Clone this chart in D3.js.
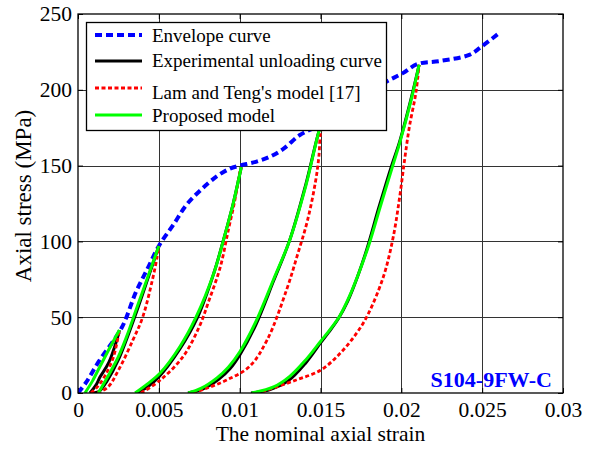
<!doctype html>
<html>
<head>
<style>
  body { margin: 0; background: #fff; }
  text { font-family: 'Liberation Serif', 'Times New Roman', serif; fill: #000; }
</style>
<script src="https://d3js.org/d3.v7.min.js"></script>
</head>
<body>
<script>
// axis ticks
var xTicks = [0, 0.005, 0.01, 0.015, 0.02, 0.025, 0.03];
var xTickLabels = ["0", "0.005", "0.01", "0.015", "0.02", "0.025", "0.03"];
var yTicks = [0, 50, 100, 150, 200, 250];

// envelope curve [strain, stress]
var envelope = [[0,0],[0.0005,7],[0.0013,21],[0.0027,43],[0.0036,67],[0.0043,82],[0.005,97],
  [0.0059,111],[0.0067,124],[0.0076,134],[0.0086,143],[0.0094,148],[0.0100,150],[0.011,152.5],
  [0.0119,156],[0.0127,161],[0.0137,170],[0.0146,175],[0.016,184],[0.0175,195],[0.019,205],
  [0.0201,211],[0.021,217],[0.0224,219],[0.0242,223],[0.0249,228],[0.026,237]];

// experimental unloading curves
var experimental = [
  [[0.00074,0],[0.0011,5],[0.00136,10.5],[0.0019,20],[0.0024,35],[0.00256,41.5]],
  [[0.0009,0],[0.0013,1],[0.0018,8],[0.0025,22],[0.0036,53],[0.0044,78],[0.005,97]],
  [[0.0036,0],[0.0043,4],[0.005,10.5],[0.0063,29],[0.0074,50],[0.0084,79],[0.009,101],[0.0096,125],[0.0101,149]],
  [[0.0068,0],[0.0077,2.5],[0.0087,9],[0.0094,16],[0.01,25],[0.011,45],[0.0121,74],[0.0131,101],[0.0141,138],[0.015,176],[0.0152,180]],
  [[0.0107,0],[0.0118,2],[0.013,8],[0.0141,20],[0.015,33],[0.0155,40],[0.0161,49],[0.0167,61],[0.0173,77],[0.0179,96],[0.0186,122],[0.0194,150],[0.0199,166],[0.0206,194],[0.0211,216.5]]
];

// Lam and Teng's model
var lamTeng = [
  [[0.0008,0],[0.0012,4],[0.0017,12],[0.0022,24],[0.00256,41.5]],
  [[0.0012,0],[0.00186,4],[0.0025,15],[0.0034,35],[0.004,50],[0.0046,74.5],[0.0049,90],[0.005,97]],
  [[0.0039,0],[0.0051,8.6],[0.0065,24],[0.0075,43.7],[0.0081,61],[0.0088,83],[0.0093,107.5],[0.0097,127],[0.01,145],[0.0101,149]],
  [[0.0071,0],[0.008,3.3],[0.0092,8.6],[0.0106,17.4],[0.0117,35],[0.0129,68],[0.0136,92],[0.0142,114],[0.0147,140],[0.0149,156],[0.015,171.5],[0.0152,180]],
  [[0.011,0],[0.0117,2],[0.0135,8.6],[0.015,15],[0.0162,26],[0.0172,39],[0.0179,51],[0.0189,77],[0.0195,103],[0.0199,129.5],[0.0202,153.7],[0.0205,175.7],[0.0209,198],[0.0211,216.5]]
];

// proposed model
var proposed = [
  [[0.00043,0],[0.0009,8],[0.00136,17.5],[0.0019,28.5],[0.00256,41.5]],
  [[0.00126,0],[0.0018,10],[0.0025,24],[0.003,37],[0.0036,55],[0.0044,79],[0.005,97]],
  [[0.00353,0],[0.0043,6],[0.00507,13],[0.0063,30.5],[0.0073,50],[0.0084,79],[0.009,101],[0.0096,125],[0.0101,149]],
  [[0.00682,0],[0.0076,3],[0.0086,10],[0.0093,17],[0.01,27],[0.011,47],[0.0121,75],[0.0131,101],[0.0141,137],[0.015,176],[0.0152,180]],
  [[0.01074,0],[0.0121,4],[0.0131,11],[0.0141,22],[0.015,34],[0.0156,42],[0.0162,51],[0.0168,64],[0.0174,80],[0.018,98],[0.0187,123],[0.0195,151],[0.0199,165],[0.0206,193],[0.0211,216.5]]
];

var legendLabels = ["Envelope curve", "Experimental unloading curve", "Lam and Teng's model [17]", "Proposed model"];

var W = 595, H = 450;
var m = {left: 78, top: 14, right: 32, bottom: 57};
var pw = W - m.left - m.right, ph = H - m.top - m.bottom;

var svg = d3.select("body").append("svg").attr("width", W).attr("height", H);

var x = d3.scaleLinear().domain([0, 0.03]).range([m.left, m.left + pw]);
var y = d3.scaleLinear().domain([0, 250]).range([m.top + ph, m.top]);

svg.append("clipPath").attr("id", "clip")
  .append("rect").attr("x", m.left).attr("y", m.top).attr("width", pw).attr("height", ph);

// grid
var grid = svg.append("g").attr("stroke", "#333").attr("stroke-width", 1);
grid.selectAll(".gx").data(xTicks.slice(1, -1)).enter().append("line")
  .attr("x1", d => Math.round(x(d)) + 0.5).attr("x2", d => Math.round(x(d)) + 0.5)
  .attr("y1", m.top).attr("y2", m.top + ph);
grid.selectAll(".gy").data(yTicks.slice(1, -1)).enter().append("line")
  .attr("y1", d => Math.round(y(d)) + 0.5).attr("y2", d => Math.round(y(d)) + 0.5)
  .attr("x1", m.left).attr("x2", m.left + pw);

// axes (ticks inward, on all sides)
svg.append("g").attr("transform", "translate(0," + (m.top + ph) + ")")
  .call(d3.axisBottom(x).tickValues(xTicks).tickSizeInner(-5).tickSizeOuter(0).tickPadding(9)
    .tickFormat((d, i) => xTickLabels[i]))
  .call(g => g.select(".domain").remove());
svg.append("g").attr("transform", "translate(0," + m.top + ")")
  .call(d3.axisTop(x).tickValues(xTicks).tickSizeInner(-5).tickSizeOuter(0).tickFormat(""))
  .call(g => g.select(".domain").remove());
svg.append("g").attr("transform", "translate(" + m.left + ",0)")
  .call(d3.axisLeft(y).tickValues(yTicks).tickSizeInner(-5).tickSizeOuter(0).tickPadding(6))
  .call(g => g.select(".domain").remove());
svg.append("g").attr("transform", "translate(" + (m.left + pw) + ",0)")
  .call(d3.axisRight(y).tickValues(yTicks).tickSizeInner(-5).tickSizeOuter(0).tickFormat(""))
  .call(g => g.select(".domain").remove());
svg.selectAll(".tick text").style("font-family", "'Liberation Serif', serif").style("font-size", "21.5px").attr("fill", "#000");
svg.selectAll(".tick line").attr("stroke", "#000");

var line = d3.line().x(d => x(d[0])).y(d => y(d[1])).curve(d3.curveCatmullRom.alpha(0.5));
var plot = svg.append("g").attr("clip-path", "url(#clip)");

var styles = [
  {stroke: "#0000ff", width: 4, dash: "7,4"},
  {stroke: "#000000", width: 3, dash: null},
  {stroke: "#ff0000", width: 2.8, dash: "4,2.5"},
  {stroke: "#00ff00", width: 3, dash: null}
];

function drawSet(data, s) {
  plot.selectAll(null).data(data).enter().append("path")
    .attr("d", line).attr("fill", "none")
    .attr("stroke", s.stroke).attr("stroke-width", s.width)
    .attr("stroke-dasharray", s.dash);
}
drawSet([envelope], styles[0]);
drawSet(experimental, styles[1]);
drawSet(lamTeng, styles[2]);
drawSet(proposed, styles[3]);

// frame
svg.append("rect").attr("x", m.left).attr("y", m.top).attr("width", pw).attr("height", ph)
  .attr("fill", "none").attr("stroke", "#000").attr("stroke-width", 1.3);

// legend
var leg = svg.append("g");
leg.append("rect").attr("x", 86.5).attr("y", 22.5).attr("width", 300).attr("height", 108)
  .attr("fill", "#fff").attr("stroke", "#000").attr("stroke-width", 1.3);
var rowsY = [35, 61, 88, 115];
var textY = [42, 67, 99, 122];
legendLabels.forEach(function(t, i) {
  leg.append("line").attr("x1", 95).attr("x2", 142).attr("y1", rowsY[i]).attr("y2", rowsY[i])
    .attr("stroke", styles[i].stroke).attr("stroke-width", styles[i].width)
    .attr("stroke-dasharray", styles[i].dash);
  leg.append("text").attr("x", 152).attr("y", textY[i]).style("font-size", "19px").text(t);
});

// specimen label
svg.append("text").attr("x", 552).attr("y", 387).attr("text-anchor", "end")
  .style("font-size", "22px").style("font-weight", "bold").style("fill", "#0000ff").text("S104-9FW-C");

// axis titles
svg.append("text").attr("x", m.left + pw / 2).attr("y", 441).attr("text-anchor", "middle")
  .style("font-size", "21.5px").text("The nominal axial strain");
svg.append("text").attr("transform", "translate(31,196) rotate(-90)")
  .attr("text-anchor", "middle").style("font-size", "23px").text("Axial stress (MPa)");
</script>
</body>
</html>
